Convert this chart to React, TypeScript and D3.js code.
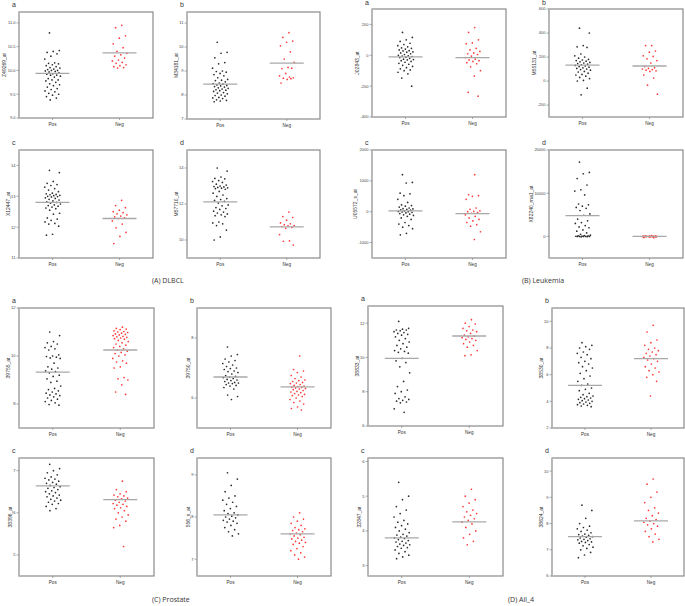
import * as d3 from 'd3';

// (A) DLBCL
const dlbclA_pos = [10.79, 10.42, 10.4, 10.38, 10.35, 10.3, 10.24, 10.16, 10.15, 10.14, 10.12, 10.1, 10.08, 10.06, 10.05, 10.03, 10.02, 10.0, 10.0, 9.99, 9.98, 9.97, 9.95, 9.93, 9.92, 9.9, 9.9, 9.88, 9.86, 9.83, 9.8, 9.8, 9.78, 9.75, 9.72, 9.7, 9.68, 9.65, 9.62, 9.6, 9.57, 9.55, 9.52, 9.5, 9.48, 9.45, 9.42, 9.38];
const dlbclA_neg = [10.95, 10.9, 10.73, 10.68, 10.56, 10.48, 10.4, 10.36, 10.33, 10.3, 10.26, 10.22, 10.2, 10.17, 10.15, 10.12, 10.1, 10.08, 10.06, 10.05];
const dlbclB_pos = [10.2, 9.78, 9.74, 9.55, 9.35, 9.3, 9.12, 9.0, 8.98, 8.95, 8.9, 8.85, 8.8, 8.72, 8.65, 8.62, 8.6, 8.55, 8.5, 8.48, 8.45, 8.42, 8.4, 8.38, 8.35, 8.33, 8.3, 8.28, 8.25, 8.22, 8.2, 8.18, 8.15, 8.1, 8.08, 8.05, 8.0, 7.98, 7.95, 7.9, 7.88, 7.85, 7.8, 7.78, 7.75, 7.72];
const dlbclB_neg = [10.6, 10.4, 10.25, 10.2, 10.05, 9.8, 9.5, 9.36, 9.15, 9.1, 9.12, 8.9, 8.8, 8.75, 8.7, 8.72, 8.65, 8.5, 8.68];
const dlbclC_pos = [13.84, 13.77, 13.48, 13.42, 13.38, 13.35, 13.3, 13.25, 13.2, 13.15, 13.1, 13.08, 13.06, 13.05, 13.03, 13.02, 13.0, 12.99, 12.98, 12.95, 12.93, 12.9, 12.88, 12.85, 12.82, 12.8, 12.78, 12.75, 12.72, 12.7, 12.68, 12.65, 12.62, 12.6, 12.55, 12.45, 12.42, 12.3, 12.26, 12.22, 12.17, 12.12, 12.1, 12.03, 11.77, 11.74];
const dlbclC_neg = [12.87, 12.7, 12.63, 12.55, 12.5, 12.47, 12.43, 12.4, 12.36, 12.33, 12.3, 12.28, 12.2, 12.1, 11.98, 11.83, 11.7, 11.47];
const dlbclD_pos = [14.0, 13.83, 13.5, 13.42, 13.4, 13.3, 13.25, 13.2, 13.1, 13.05, 13.0, 12.97, 12.95, 12.92, 12.9, 12.88, 12.85, 12.82, 12.7, 12.6, 12.5, 12.42, 12.3, 12.25, 12.2, 12.15, 12.05, 11.95, 11.9, 11.8, 11.75, 11.7, 11.6, 11.55, 11.5, 11.45, 11.4, 11.35, 11.3, 11.0, 10.95, 10.9, 10.8, 10.55, 10.17, 10.0];
const dlbclD_neg = [11.55, 11.3, 11.25, 11.1, 10.95, 10.9, 10.85, 10.8, 10.78, 10.75, 10.7, 10.65, 10.3, 9.95, 9.93, 9.72];

// (B) Leukemia
const leukA_pos = [148, 116, 100, 90, 78, 70, 62, 55, 48, 45, 40, 35, 30, 28, 22, 20, 15, 10, 5, 0, -3, -5, -8, -12, -15, -20, -25, -28, -30, -35, -40, -45, -52, -58, -65, -72, -80, -88, -95, -100, -110, -120, -148, -200];
const leukA_neg = [180, 148, 100, 80, 75, 45, 35, 25, 15, 10, 5, -5, -15, -25, -30, -35, -40, -48, -55, -75, -100, -135, -240, -265];
const leukB_pos = [440, 400, 295, 285, 280, 225, 210, 200, 190, 180, 175, 170, 165, 160, 155, 150, 145, 140, 135, 130, 125, 120, 115, 110, 105, 100, 95, 90, 80, 75, 65, 55, 50, 40, 30, 20, 5, 0, -60, -115];
const leukB_neg = [295, 295, 250, 240, 210, 205, 185, 170, 150, 120, 110, 105, 100, 95, 90, 85, 80, 50, 25, -35, -110];
const leukC_pos = [1200, 950, 930, 600, 580, 520, 400, 300, 220, 200, 180, 150, 120, 100, 90, 80, 60, 50, 30, 10, 0, -10, -20, -40, -60, -80, -100, -120, -150, -200, -250, -350, -400, -450, -500, -550, -700, -750];
const leukC_neg = [1200, 550, 520, 500, 400, 120, 80, 30, 10, 0, -30, -50, -100, -150, -200, -250, -300, -350, -420, -470, -650, -900];
const leukD_pos = [17200, 14800, 14500, 13400, 11900, 10800, 10500, 9600, 7500, 7300, 7000, 6700, 6500, 6000, 5200, 4900, 4000, 3600, 3200, 3000, 2500, 2200, 2000, 1500, 1200, 800, 500, 300, 200, 150, 100, 50, 30, 0, 0, 0, 0, 0, -50, -100];
const leukD_neg = [200, 150, 100, 80, 60, 50, 30, 20, 10, 0, -20, -30, -50, -80, -100, -150, -200, -250, -300];

// (C) Prostate
const prosA_pos = [11.0, 10.85, 10.6, 10.55, 10.5, 10.4, 10.35, 10.3, 10.25, 10.05, 10.0, 9.98, 9.95, 9.92, 9.9, 9.7, 9.55, 9.5, 9.45, 9.38, 9.35, 9.3, 9.2, 9.15, 9.05, 8.95, 8.9, 8.75, 8.65, 8.6, 8.55, 8.5, 8.45, 8.42, 8.38, 8.35, 8.3, 8.25, 8.2, 8.15, 8.1, 8.05, 7.98, 7.95];
const prosA_neg = [11.2, 11.15, 11.12, 11.1, 11.05, 11.02, 11.0, 10.98, 10.95, 10.92, 10.9, 10.88, 10.85, 10.82, 10.8, 10.78, 10.75, 10.72, 10.7, 10.65, 10.6, 10.55, 10.5, 10.45, 10.4, 10.35, 10.3, 10.25, 10.2, 10.15, 10.1, 10.05, 10.0, 9.9, 9.8, 9.75, 9.7, 9.55, 9.5, 9.1, 9.05, 9.0, 8.8, 8.5, 8.4];
const prosB_pos = [7.7, 7.45, 7.4, 7.3, 7.25, 7.2, 7.15, 7.1, 7.05, 7.0, 6.98, 6.95, 6.9, 6.88, 6.85, 6.8, 6.75, 6.72, 6.7, 6.68, 6.65, 6.62, 6.6, 6.58, 6.55, 6.52, 6.5, 6.5, 6.48, 6.45, 6.42, 6.4, 6.35, 6.3, 6.1, 6.05, 5.95];
const prosB_neg = [7.4, 6.95, 6.9, 6.85, 6.75, 6.7, 6.65, 6.6, 6.58, 6.55, 6.52, 6.5, 6.48, 6.45, 6.42, 6.4, 6.38, 6.36, 6.35, 6.33, 6.32, 6.3, 6.28, 6.25, 6.22, 6.2, 6.18, 6.15, 6.12, 6.1, 6.08, 6.05, 6.0, 5.95, 5.9, 5.85, 5.8, 5.7, 5.65, 5.6];
const prosC_pos = [7.15, 7.05, 7.0, 6.95, 6.9, 6.85, 6.82, 6.8, 6.78, 6.75, 6.72, 6.7, 6.68, 6.65, 6.62, 6.6, 6.58, 6.55, 6.52, 6.5, 6.48, 6.45, 6.42, 6.4, 6.38, 6.35, 6.32, 6.3, 6.28, 6.25, 6.22, 6.2, 6.15, 6.1, 6.05];
const prosC_neg = [6.75, 6.55, 6.5, 6.45, 6.42, 6.4, 6.38, 6.35, 6.33, 6.3, 6.28, 6.25, 6.22, 6.2, 6.18, 6.15, 6.12, 6.1, 6.05, 6.0, 5.95, 5.9, 5.85, 5.8, 5.7, 5.65, 5.2];
const prosD_pos = [9.05, 8.9, 8.75, 8.6, 8.5, 8.45, 8.4, 8.35, 8.3, 8.25, 8.2, 8.15, 8.1, 8.08, 8.05, 8.02, 8.0, 7.98, 7.95, 7.92, 7.9, 7.88, 7.85, 7.8, 7.75, 7.7, 7.65, 7.6, 7.55];
const prosD_neg = [8.1, 8.0, 7.95, 7.9, 7.85, 7.8, 7.75, 7.72, 7.7, 7.68, 7.65, 7.62, 7.6, 7.58, 7.55, 7.52, 7.5, 7.48, 7.45, 7.42, 7.4, 7.38, 7.35, 7.3, 7.25, 7.2, 7.15, 7.1, 7.05, 7.0];

// (D) All_4
const allA_pos = [12.1, 11.7, 11.65, 11.6, 11.6, 11.55, 11.5, 11.45, 11.4, 11.35, 11.3, 11.2, 11.1, 11.0, 10.9, 10.8, 10.7, 10.6, 10.5, 10.4, 10.35, 10.3, 10.25, 9.95, 9.8, 9.7, 9.45, 9.1, 8.6, 8.3, 8.1, 8.0, 7.9, 7.7, 7.6, 7.55, 7.5, 7.45, 7.4, 7.35, 7.0, 6.8];
const allA_neg = [12.2, 12.0, 11.95, 11.8, 11.7, 11.6, 11.55, 11.5, 11.4, 11.3, 11.25, 11.2, 11.15, 11.1, 11.05, 11.0, 10.9, 10.8, 10.7, 10.6, 10.4, 10.15, 10.1];
const allB_pos = [8.4, 8.2, 8.1, 8.0, 7.9, 7.7, 7.6, 7.5, 7.3, 7.2, 7.0, 6.9, 6.8, 6.6, 6.5, 6.3, 6.1, 5.9, 5.7, 5.5, 5.3, 5.2, 5.0, 4.9, 4.8, 4.6, 4.5, 4.4, 4.35, 4.3, 4.25, 4.2, 4.15, 4.1, 4.05, 4.0, 3.95, 3.9, 3.85, 3.8, 3.75, 3.7, 3.65, 3.6];
const allB_neg = [9.7, 9.2, 8.6, 8.4, 8.2, 8.0, 7.9, 7.8, 7.7, 7.6, 7.5, 7.4, 7.3, 7.2, 7.1, 7.0, 6.8, 6.6, 6.5, 6.3, 6.2, 6.0, 5.8, 5.5, 4.4];
const allC_pos = [5.4, 5.0, 4.9, 4.7, 4.6, 4.5, 4.4, 4.3, 4.25, 4.2, 4.15, 4.1, 4.05, 4.0, 3.95, 3.9, 3.88, 3.85, 3.82, 3.8, 3.78, 3.75, 3.72, 3.7, 3.68, 3.65, 3.62, 3.6, 3.58, 3.55, 3.52, 3.5, 3.45, 3.4, 3.35, 3.3, 3.25, 3.2];
const allC_neg = [5.2, 5.0, 4.9, 4.8, 4.7, 4.6, 4.55, 4.5, 4.45, 4.4, 4.35, 4.3, 4.25, 4.2, 4.1, 4.0, 3.9, 3.8, 3.7, 3.6];
const allD_pos = [8.7, 8.5, 8.2, 8.0, 7.9, 7.85, 7.8, 7.75, 7.7, 7.65, 7.6, 7.58, 7.55, 7.52, 7.5, 7.48, 7.45, 7.42, 7.4, 7.38, 7.35, 7.32, 7.3, 7.28, 7.25, 7.2, 7.15, 7.1, 7.05, 7.0, 6.9, 6.8, 6.7];
const allD_neg = [9.7, 9.5, 9.2, 9.0, 8.8, 8.6, 8.5, 8.4, 8.3, 8.2, 8.15, 8.1, 8.05, 8.0, 7.95, 7.9, 7.8, 7.7, 7.6, 7.5, 7.4, 7.3];

// group centre lines, [Pos, Neg]
const centreLines = [
  [9.94, 10.37], [8.45, 9.33], [12.8, 12.28], [12.12, 10.73],
  [-10, -15], [132, 125], [30, -60], [4800, 0],
  [9.33, 10.25], [6.7, 6.37], [6.64, 6.31], [8.05, 7.6],
  [9.95, 11.25], [5.2, 7.2], [3.8, 4.26], [7.5, 8.1],
];

const probeNames = [
  'Z49269_at', 'M34181_at', 'X12447_at', 'M57710_at',
  'J02843_at', 'M55131_at', 'U05572_s_at', 'X82240_rna1_at',
  '39755_at', '39750_at', '38396_at', '556_s_at',
  '38833_at', '38530_at', '32847_at', '38624_at',
];
const panelLetters = ['a', 'b', 'c', 'd'];
const groups = ['Pos', 'Neg'];
const captions = ['(A) DLBCL', '(B) Leukemia', '(C) Prostate', '(D) All_4'];

const yDomains: [number, number][] = [
  [9, 11.23], [7, 11.46], [11, 14.5], [9, 15],
  [-400, 300], [-300, 600], [-1500, 2000], [-5000, 20000],
  [7, 12], [5, 9], [4.5, 7.3], [6.6, 9.4],
  [6, 13], [2, 11], [2.7, 6.1], [6, 10.5],
];
const yTicks = [
  [9.0, 9.5, 10.0, 10.5, 11.0], [7, 8, 9, 10, 11], [11, 12, 13, 14], [10, 12, 14],
  [-400, -200, 0, 200], [-200, 0, 200, 400, 600], [-1000, 0, 1000, 2000], [0, 10000, 20000],
  [8, 10, 12], [6, 8], [5, 6, 7], [7, 8, 9],
  [6, 8, 10, 12], [2, 4, 6, 8, 10], [3, 4, 5, 6], [6, 7, 8, 9, 10],
];
const seriesPos = [dlbclA_pos, dlbclB_pos, dlbclC_pos, dlbclD_pos, leukA_pos, leukB_pos, leukC_pos, leukD_pos, prosA_pos, prosB_pos, prosC_pos, prosD_pos, allA_pos, allB_pos, allC_pos, allD_pos];
const seriesNeg = [dlbclA_neg, dlbclB_neg, dlbclC_neg, dlbclD_neg, leukA_neg, leukB_neg, leukC_neg, leukD_neg, prosA_neg, prosB_neg, prosC_neg, prosD_neg, allA_neg, allB_neg, allC_neg, allD_neg];

// layout: plot frames [x, y, w, h]
const frames = [
  [19, 12, 134, 106], [187, 12, 133, 107], [19, 150, 134, 108], [187, 150, 133, 108],
  [372, 9, 134, 108], [549, 9, 134, 108], [372, 150, 134, 108], [549, 150, 134, 108],
  [19, 308, 135, 120], [197, 308, 134, 120], [19, 458, 135, 118], [197, 458, 134, 118],
  [368, 306, 135, 120], [552, 308, 132, 120], [368, 458, 135, 118], [552, 458, 132, 118],
];
const captionPos = [[152, 283], [522, 283], [152, 602], [508, 602]];

const FONT = 'Liberation Sans, Arial, sans-serif';
const TICK_FS = 4;

// deterministic horizontal jitter in [-1, 1]
const jit = (i: number) => ((i * 0.6180339 + 0.31) % 1) * 2 - 1;

function fmt(p: number, v: number) {
  if (p === 0) return v.toFixed(1);
  return String(v);
}

// rough text width for Liberation Sans digits
function textW(s: string, fs: number) {
  let w = 0;
  for (const ch of s) w += ch === '.' ? 0.278 : ch === '-' ? 0.333 : 0.556;
  return w * fs;
}

function Strip({ p }: { p: number }) {
  const [fx, fy, fw, fh] = frames[p];
  const y = d3.scaleLinear().domain(yDomains[p]).range([fy + fh, fy]);
  const x = d3.scalePoint<string>().domain(groups).range([fx, fx + fw]).padding(0.5);
  const sets = [seriesPos[p], seriesNeg[p]];
  const colors = ['#2a2a2a', '#ff3838'];
  const maxW = d3.max(yTicks[p], (t) => textW(fmt(p, t), TICK_FS)) as number;
  const labelX = Math.max(4.5, fx - 3.5 - maxW - 1.5);
  return (
    <g>
      <text x={fx - 7} y={Math.max(5, fy - 5)} fontSize={7} fontFamily={FONT} fill="#333">{panelLetters[p % 4]}</text>
      <rect x={fx} y={fy} width={fw} height={fh} fill="white" stroke="#8a8a8a" strokeWidth={1.2} />
      <line x1={fx} x2={fx} y1={fy} y2={fy + fh} stroke="#b8b8b8" strokeWidth={1.8} />
      {yTicks[p].map((t) => (
        <g key={t}>
          <line x1={fx - 2.5} x2={fx} y1={y(t)} y2={y(t)} stroke="#888" strokeWidth={0.7} />
          <text x={fx - 3.5} y={y(t) + 1.4} fontSize={TICK_FS} textAnchor="end" fontFamily={FONT} fill="#444">{fmt(p, t)}</text>
        </g>
      ))}
      <text transform={`translate(${labelX},${fy + fh / 2}) rotate(-90)`} fontSize={5} textAnchor="middle" fontFamily={FONT} fill="#333">{probeNames[p]}</text>
      {groups.map((g) => (
        <g key={g}>
          <line x1={x(g)} x2={x(g)} y1={fy + fh} y2={fy + fh + 2} stroke="#888" strokeWidth={0.7} />
          <text x={x(g)} y={fy + fh + 8} fontSize={4.6} textAnchor="middle" fontFamily={FONT} fill="#333">{g}</text>
        </g>
      ))}
      {sets.map((vals, gi) =>
        vals.map((v, i) => (
          <circle key={`${gi}-${i}`} cx={(x(groups[gi]) as number) + jit(i + gi * 7) * 8} cy={y(v)} r={0.85} fill={colors[gi]} />
        ))
      )}
      {centreLines[p].map((v, gi) => (
        <line key={gi} x1={(x(groups[gi]) as number) - 17} x2={(x(groups[gi]) as number) + 17} y1={y(v)} y2={y(v)} stroke="#a8a8a8" strokeWidth={1.3} />
      ))}
    </g>
  );
}

export default function App() {
  return (
    <div style={{ position: 'absolute', left: 0, top: 0, width: 685, height: 606, background: 'white' }}>
      <svg width={685} height={606} viewBox="0 0 685 606">
        <rect width={685} height={606} fill="white" />
        {frames.map((_, p) => <Strip key={p} p={p} />)}
        {captions.map((c, i) => (
          <text key={c} x={captionPos[i][0]} y={captionPos[i][1]} fontSize={7} fontFamily="Open Sans, sans-serif" fill="#333">{c}</text>
        ))}
      </svg>
    </div>
  );
}
